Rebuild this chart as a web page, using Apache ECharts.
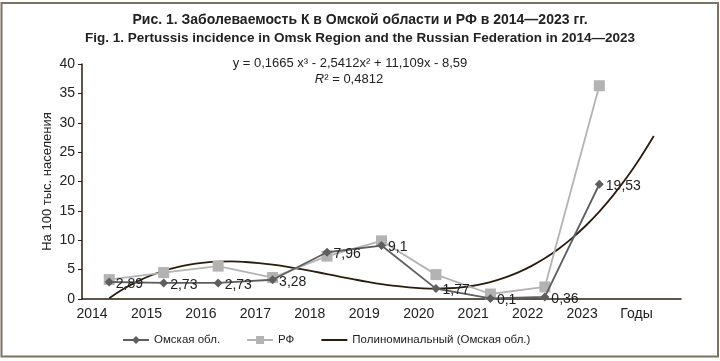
<!DOCTYPE html>
<html><head><meta charset="utf-8">
<script src="https://cdn.jsdelivr.net/npm/echarts@6/dist/echarts.min.js"></script>
<style>html,body{margin:0;padding:0;background:#fff}#c{width:720px;height:361px}</style>
</head><body><div id="c"></div>
<script>
const yearLabels = ['2014','2015','2016','2017','2018','2019','2020','2021','2022','2023','Годы'];
const periods = [1,2,3,4,5,6,7,8,9,10];
const omsk = [2.89, 2.73, 2.73, 3.28, 7.96, 9.1, 1.77, 0.1, 0.36, 19.53];
const rf = [3.3, 4.5, 5.6, 3.65, 7.3, 9.9, 4.15, 0.85, 2.05, 36.3];
const trendX = [1,1.25,1.5,1.75,2,2.25,2.5,2.75,3,3.25,3.5,3.75,4,4.25,4.5,4.75,5,5.25,5.5,5.75,6,6.25,6.5,6.75,7,7.25,7.5,7.75,8,8.25,8.5,8.75,9,9.25,9.5,9.75,10,10.25,10.5,10.75,11];
const trendY = [0.14,1.65,2.92,3.96,4.80,5.44,5.90,6.20,6.36,6.39,6.30,6.11,5.84,5.50,5.11,4.69,4.24,3.78,3.34,2.92,2.54,2.23,1.98,1.82,1.76,1.83,2.03,2.38,2.89,3.59,4.49,5.60,6.93,8.51,10.36,12.47,14.88,17.59,20.63,24.01,27.74];
const yTicks = [0,5,10,15,20,25,30,35,40];

const font = 'Liberation Sans, Arial, sans-serif';
const chart = echarts.init(document.getElementById('c'));
const fmt = v => String(v).replace('.', ',');
chart.setOption({
  animation: false,
  backgroundColor: '#fff',
  textStyle: {fontFamily: font},
  title: [
    {text: 'Рис. 1. Заболеваемость К в Омской области и РФ в 2014—2023 гг.', left: 'center', top: 8,
     textStyle: {fontSize: 14, fontWeight: 'bold', color: '#222', fontFamily: font}},
    {text: 'Fig. 1. Pertussis incidence in Omsk Region and the Russian Federation in 2014—2023', left: 'center', top: 26,
     textStyle: {fontSize: 13.5, fontWeight: 'bold', color: '#222', fontFamily: font}}
  ],
  graphic: [
    {type: 'rect', shape: {x: 1.5, y: 3, width: 716.5, height: 353.5}, style: {fill: 'none', stroke: '#7a7262', lineWidth: 2}, silent: true},
    {type: 'text', x: 350, y: 57, style: {text: 'y = 0,1665 x³ - 2,5412x² + 11,109x - 8,59', textAlign: 'center', fontSize: 13, fill: '#222', fontFamily: font}},
    {type: 'text', x: 349, y: 73, style: {rich: {i: {fontStyle: 'italic', fontSize: 13, fill: '#222', fontFamily: font}, n: {fontSize: 13, fill: '#222', fontFamily: font}}, text: '{i|R}{n|² = 0,4812}', textAlign: 'center'}}
  ],
  legend: {
    bottom: 10, left: 117, itemGap: 26, itemWidth: 26, itemHeight: 10,
    textStyle: {fontSize: 11.5, color: '#222', fontFamily: font},
    data: ['Омская обл.', 'РФ', {name: 'Полиноминальный (Омская обл.)', itemStyle: {opacity: 0}}]
  },
  grid: {left: 82, right: 39, top: 64, bottom: 62},
  xAxis: [
    {type: 'value', min: 0.5, max: 11.5, axisLine: {show: true, lineStyle: {color: '#2b1d0e', width: 1.5}},
     axisTick: {show: false}, axisLabel: {show: false}, splitLine: {show: false}},
    {type: 'value', position: 'bottom', min: 0, max: 11, interval: 1, axisLine: {show: false}, axisTick: {show: false},
     splitLine: {show: false},
     axisLabel: {fontSize: 14, color: '#222', margin: 8, padding: [0, 0, 0, 20], fontFamily: font,
       formatter: v => yearLabels[v] || ''}}
  ],
  yAxis: {
    type: 'value', min: yTicks[0], max: yTicks[yTicks.length - 1], interval: 5,
    name: 'На 100 тыс. населения', nameLocation: 'middle', nameGap: 28, nameRotate: 90, nameMoveOverlap: false,
    nameTextStyle: {fontSize: 13, color: '#222', fontFamily: font},
    axisLine: {show: true, lineStyle: {color: '#2b1d0e', width: 1.5}},
    axisTick: {show: true, length: 4, lineStyle: {color: '#2b1d0e'}},
    axisLabel: {fontSize: 14, color: '#222', margin: 7, fontFamily: font},
    splitLine: {show: false}
  },
  series: [
    {name: 'Полиноминальный (Омская обл.)', type: 'line', xAxisIndex: 0, smooth: 0.4, symbol: 'none',
     lineStyle: {color: '#2b1d0e', width: 1.8}, itemStyle: {color: '#2b1d0e'}, z: 2,
     data: trendX.map((x, i) => [x, trendY[i]])},
    {name: 'РФ', type: 'line', xAxisIndex: 0, symbol: 'rect', symbolSize: 11,
     lineStyle: {color: '#b3b3b3', width: 1.8}, itemStyle: {color: '#b3b3b3'}, z: 3,
     data: periods.map((x, i) => [x, rf[i]])},
    {name: 'Омская обл.', type: 'line', xAxisIndex: 0, symbol: 'diamond', symbolSize: 9,
     lineStyle: {color: '#5e5e5e', width: 1.8}, itemStyle: {color: '#5e5e5e'}, z: 4,
     label: {show: true, position: 'right', distance: 2, fontSize: 14, color: '#222', fontFamily: font, offset: [0, 2],
       formatter: p => fmt(p.value[1])},
     data: periods.map((x, i) => [x, omsk[i]])}
  ]
});
</script></body></html>
